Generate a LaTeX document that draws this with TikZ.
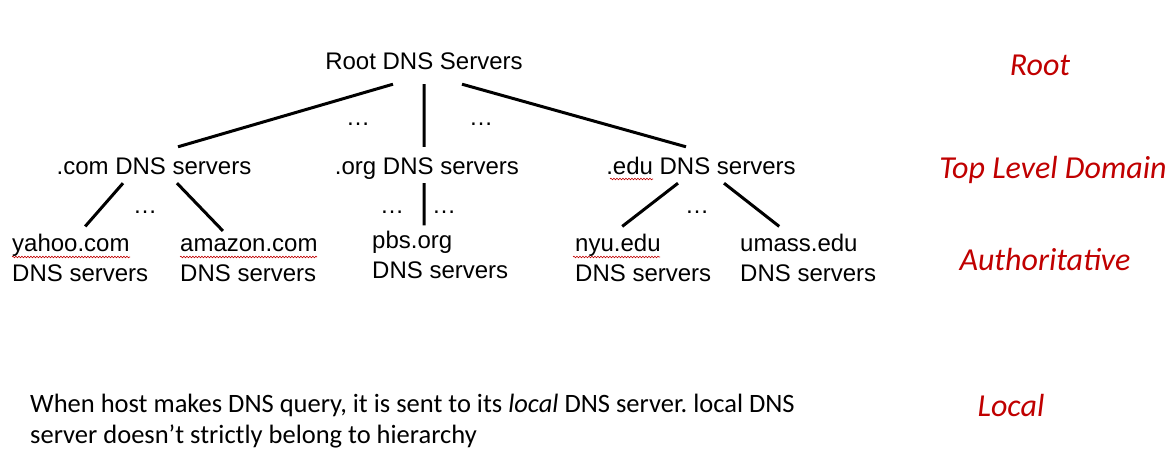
\documentclass[tikz,border=0pt]{standalone}
\usepackage{fontspec}
\usepackage{tikz}
\usetikzlibrary{decorations.pathmorphing}
\newfontfamily\treefont{Liberation Sans}
\newfontfamily\notefont{Carlito}
\definecolor{levelred}{HTML}{C00000}
\frenchspacing

\begin{document}
\begin{tikzpicture}[x=1pt, y=-1pt,
	tier/.style={font=\treefont\fontsize{24}{30}\selectfont, anchor=base, inner sep=8pt, text height=20pt, text depth=0pt},
	leaf/.style={font=\treefont\fontsize{24}{30}\selectfont, anchor=base west, align=left, inner sep=8pt},
	dots/.style={font=\treefont\fontsize{24}{30}\selectfont, anchor=base, inner sep=0pt},
	level/.style={font=\notefont\itshape\fontsize{32}{38}\selectfont, text=levelred, anchor=base},
	note/.style={font=\notefont\fontsize{26.5}{31}\selectfont, anchor=base west, align=left, inner sep=8pt},
	branch/.style={line width=3pt},
	squiggle/.style={levelred, line width=0.6pt, decorate, decoration={snake, amplitude=0.8pt, segment length=3pt}}]
	\useasboundingbox (0, 0) rectangle (1173, 449);
	% hierarchy
	\node[tier, inner ysep=14pt] (root) at (424, 70) {Root DNS Servers};
	\node[tier] (com) at (154, 175) {.com DNS servers};
	\node[tier] (org) at (427, 175) {.org DNS servers};
	\node[tier] (edu) at (701, 175) {.edu DNS servers};
	\node[leaf] (yahoo) at (4, 282) {yahoo.com\\DNS servers};
	\node[leaf] (amazon) at (172, 282) {amazon.com\\DNS servers};
	\node[leaf] (pbs) at (364, 278) {pbs.org\\DNS servers};
	\node[leaf] (nyu) at (567, 282) {nyu.edu\\DNS servers};
	\node[leaf] (umass) at (732, 282) {umass.edu\\DNS servers};
	\draw[branch] ([xshift=-31pt]root.south) -- ([xshift=24pt]com.north)
		(root.south) -- (root.south |- org.north)
		([xshift=38pt]root.south) -- ([xshift=-15pt]edu.north)
		([xshift=-31pt]com.south) -- ([xshift=5pt]yahoo.north)
		([xshift=23pt]com.south) -- ([xshift=-26pt]amazon.north)
		([xshift=-3pt]org.south) -- ([xshift=-3pt, yshift=-3pt]org.south |- pbs.north)
		([xshift=-23pt]edu.south) -- ([xshift=-21pt]nyu.north)
		([xshift=23pt]edu.south) -- ([xshift=-29pt]umass.north);
	\node[dots] (d1) at (358, 126) {\dots};
	\node[dots] (d2) at (481, 126) {\dots};
	\node[dots] (d3) at (145, 214) {\dots};
	\node[dots] (d4) at (392, 214) {\dots};
	\node[dots] (d5) at (444, 214) {\dots};
	\node[dots] (d6) at (697, 214) {\dots};
	% spell check marks
	\draw[squiggle] (12, 257) -- (130, 257);
	\draw[squiggle] (180, 257) -- (317, 257);
	\draw[squiggle] (610, 179) -- (653, 179);
	\draw[squiggle] (573, 257) -- (660, 257);
	% levels
	\node[level] (lroot) at (1040, 76) {Root};
	\node[level] (ltld) at (1053, 179) {Top Level Domain};
	\node[level] (lauth) at (1045, 271) {Authoritative};
	\node[level] (llocal) at (1011, 416) {Local};
	\node[note] (note) at (22, 443) {When host makes DNS query, it is sent to its \textit{local} DNS server. local DNS\\server doesn’t strictly belong to hierarchy};
\end{tikzpicture}
\end{document}
